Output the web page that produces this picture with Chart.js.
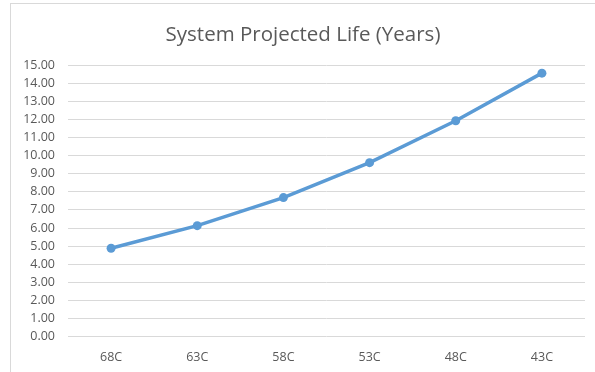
<!DOCTYPE html>
<html>
<head>
<meta charset="utf-8">
<title>System Projected Life (Years)</title>
<script src="https://cdn.jsdelivr.net/npm/chart.js@4/dist/chart.umd.min.js"></script>
<style>
  html, body { margin: 0; padding: 0; background: #fff; overflow: hidden; }
  body { width: 595px; height: 372px; position: relative; }
  .frame {
    position: absolute; left: 10px; top: 3px;
    width: 700px; height: 500px;
    border: 1px solid #d9d9d9; box-sizing: border-box;
  }
  #lifeChart { position: absolute; left: 0; top: 0; }
</style>
</head>
<body>
<div class="frame"></div>
<canvas id="lifeChart" width="595" height="372"></canvas>
<script>
const chartTitle = 'System Projected Life (Years)';
const temperatures = ['68C', '63C', '58C', '53C', '48C', '43C'];
const projectedLife = [4.88, 6.13, 7.68, 9.61, 11.92, 14.55];
const yMin = 0;
const yMax = 15;
const yStep = 1;

const textColor = '#595959';
const gridColor = '#d9d9d9';
const lineColor = '#5b9bd5';
const fontFamily = '"Open Sans", "Liberation Sans", sans-serif';

function buildChart() {
  const ctx = document.getElementById('lifeChart').getContext('2d');
  return new Chart(ctx, {
    type: 'line',
    data: {
      labels: temperatures,
      datasets: [{
        label: chartTitle,
        data: projectedLife,
        borderColor: lineColor,
        backgroundColor: lineColor,
        borderWidth: 3.5,
        pointRadius: 4.5,
        pointBorderWidth: 0,
        pointHoverRadius: 4.5,
        tension: 0,
        fill: false
      }]
    },
    options: {
      responsive: false,
      animation: false,
      // left padding keeps the title centred inside the framed area
      layout: { padding: { left: 21, right: 10, top: 0, bottom: 0 } },
      plugins: {
        legend: { display: false },
        tooltip: { enabled: false },
        title: {
          display: true,
          text: chartTitle,
          color: textColor,
          font: { family: fontFamily, size: 20.5, weight: 'normal', lineHeight: 1.2 },
          padding: { top: 22.5, bottom: 17.9 }
        }
      },
      scales: {
        x: {
          offset: true,
          grid: { display: false, drawTicks: false },
          border: { display: false },
          ticks: {
            color: textColor,
            font: { family: fontFamily, size: 12.5 },
            padding: 13,
            maxRotation: 0
          },
          afterFit(scale) { scale.height = 35.3; }
        },
        y: {
          min: yMin,
          max: yMax,
          grid: { color: gridColor, lineWidth: 1, drawTicks: false },
          border: { display: false },
          ticks: {
            stepSize: yStep,
            color: textColor,
            font: { family: fontFamily, size: 12.5 },
            padding: 13,
            callback: value => Number(value).toFixed(2)
          },
          afterFit(scale) { scale.width = 47; }
        }
      }
    }
  });
}

window.addEventListener('DOMContentLoaded', buildChart);
</script>
</body>
</html>
